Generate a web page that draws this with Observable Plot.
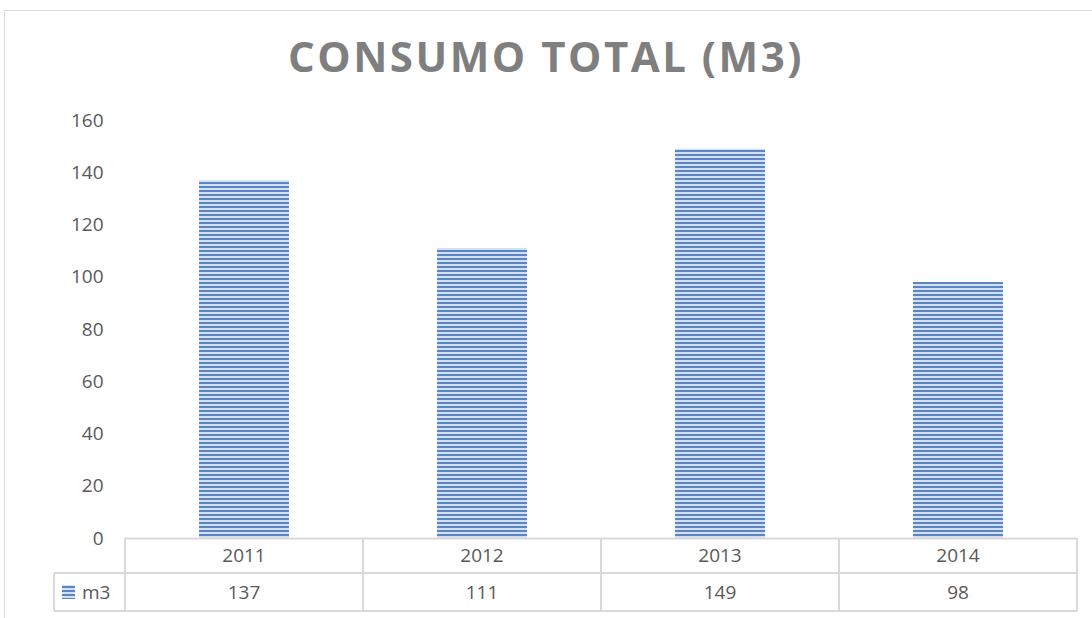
<!DOCTYPE html>
<html>
<head>
<meta charset="utf-8">
<script src="https://cdn.jsdelivr.net/npm/d3@7"></script>
<script src="https://cdn.jsdelivr.net/npm/@observablehq/plot@0.6"></script>
<style>
  html, body { margin: 0; padding: 0; background: #fff; overflow: hidden; }
  #wrap { position: relative; width: 1092px; height: 618px; }
  #border { position: absolute; left: 4px; top: 10px; width: 1100px; height: 700px; border: 1px solid #d9d9d9; box-sizing: border-box; }
  #title { position: absolute; left: 0; top: 0; width: 1092px; height: 105px; text-align: center;
    font-family: "Open Sans", sans-serif; font-weight: bold; font-size: 42px; letter-spacing: 2.5px;
    color: #7f7f7f; line-height: 112px; }
  #chart { position: absolute; left: 0; top: 105px; }
</style>
</head>
<body>
<div id="wrap">
  <div id="border"></div>
  <div id="title">CONSUMO TOTAL (M3)</div>
  <div id="chart"></div>
</div>
<script>
const years = ["2011", "2012", "2013", "2014"];
const values = [137, 111, 149, 98];
const seriesName = "m3";
const yTicks = [0, 20, 40, 60, 80, 100, 120, 140, 160];

const data = years.map((y, i) => ({year: y, value: values[i]}));

const W = 1092, H = 513;
const plot = Plot.plot({
  width: W,
  height: H,
  marginTop: 15,
  marginBottom: 80,
  marginLeft: 125,
  marginRight: 15,
  style: {fontFamily: "'Open Sans', sans-serif", fontSize: "19px", color: "#595959", background: "transparent"},
  x: {domain: years, paddingInner: 0.62, paddingOuter: 0.31, axis: null},
  y: {domain: [0, 160], ticks: yTicks, label: null},
  marks: [
    Plot.axisY({ticks: yTicks, tickSize: 0, tickPadding: 22, label: null, fontSize: 19, fill: "#595959"}),
    Plot.barY(data, {x: "year", y: "value", fill: "url(#stripes)"}),
    Plot.ruleY([0], {stroke: "#d9d9d9", strokeWidth: 2})
  ]
});

// Stripe pattern definition
const svg = d3.select(plot);
const defs = svg.insert("defs", ":first-child");
const pat = defs.append("pattern").attr("id", "stripes").attr("patternUnits", "userSpaceOnUse")
  .attr("width", 8).attr("height", 4);
pat.append("rect").attr("width", 8).attr("height", 4).attr("fill", "#d4e0f2");
pat.append("rect").attr("y", 1).attr("width", 8).attr("height", 2).attr("fill", "#5b86c6");

// Data table beneath the plot, aligned with Plot's x scale
const xs = plot.scale("x");
const ys = plot.scale("y");
const step = xs.step;
const y0 = ys.apply(0);
const row1 = y0 + 35, row2 = y0 + 73;
const left = xs.apply(years[0]) - (step - xs.bandwidth) / 2;
const right = xs.apply(years[years.length - 1]) + xs.bandwidth + (step - xs.bandwidth) / 2;
const legLeft = 54;
const g = svg.append("g").attr("stroke", "#d9d9d9").attr("stroke-width", 2).attr("fill", "none");
g.append("line").attr("x1", left).attr("x2", right).attr("y1", row1).attr("y2", row1);
g.append("line").attr("x1", legLeft).attr("x2", left).attr("y1", row1).attr("y2", row1);
g.append("line").attr("x1", legLeft).attr("x2", right).attr("y1", row2).attr("y2", row2);
const bounds = years.map(y => xs.apply(y) - (step - xs.bandwidth) / 2).concat([right]);
bounds.forEach(b => g.append("line").attr("x1", b).attr("x2", b).attr("y1", y0).attr("y2", row2));
g.append("line").attr("x1", legLeft).attr("x2", legLeft).attr("y1", row1).attr("y2", row2);

const t = svg.append("g").attr("fill", "#595959").attr("font-family", "'Open Sans', sans-serif")
  .attr("font-size", 19).attr("text-anchor", "middle");
years.forEach((y, i) => {
  const cx = xs.apply(y) + xs.bandwidth / 2;
  t.append("text").attr("x", cx).attr("y", (y0 + row1) / 2).attr("dy", "0.35em").text(y);
  t.append("text").attr("x", cx).attr("y", (row1 + row2) / 2).attr("dy", "0.35em").text(values[i]);
});
svg.append("rect").attr("x", 62).attr("y", (row1 + row2) / 2 - 7).attr("width", 13).attr("height", 14).attr("fill", "url(#stripes)");
t.append("text").attr("x", 82).attr("y", (row1 + row2) / 2).attr("dy", "0.35em").attr("text-anchor", "start").text(seriesName);

document.getElementById("chart").appendChild(plot);
</script>
</body>
</html>
